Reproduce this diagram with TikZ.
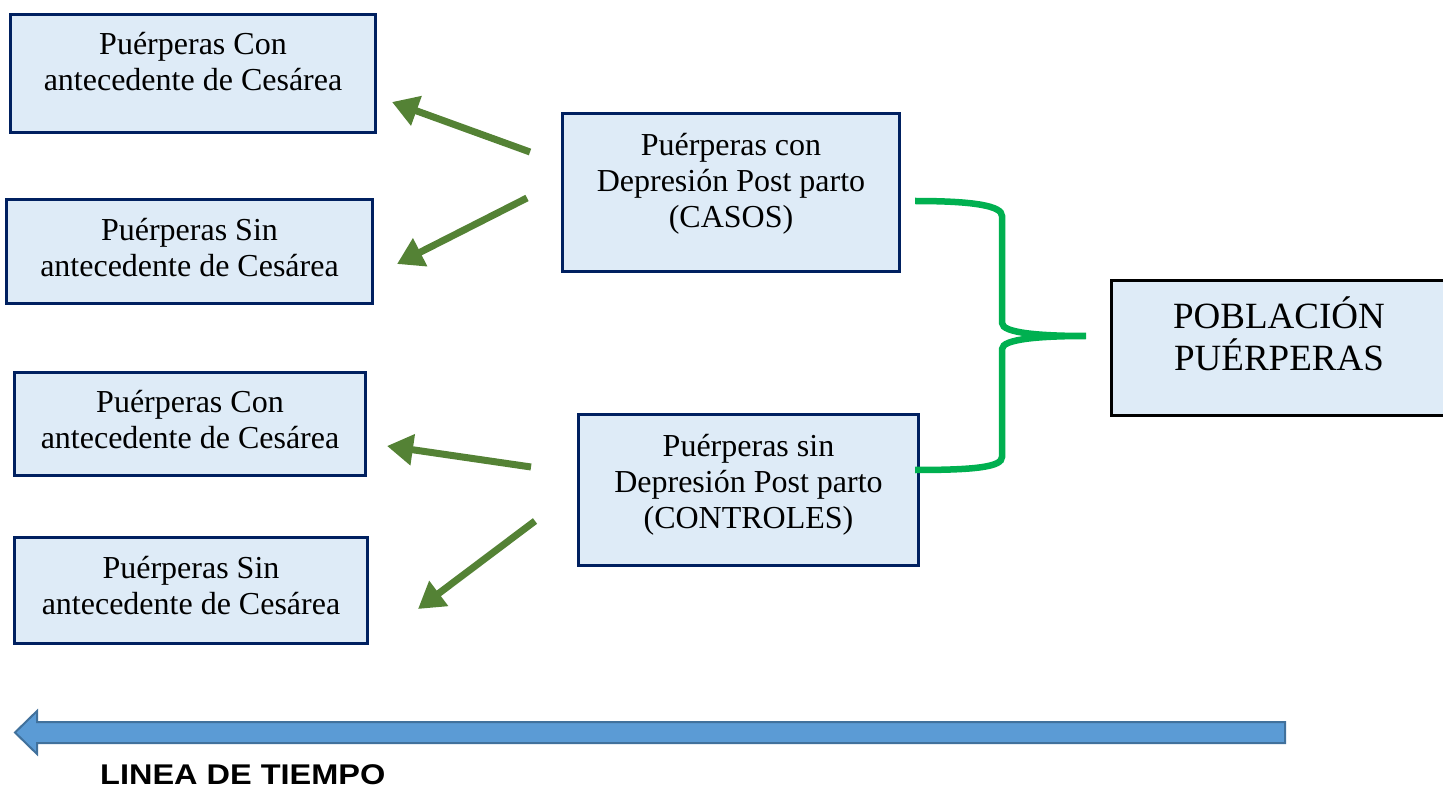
\documentclass[tikz,border=0pt]{standalone}
\usepackage{fontspec}
\setmainfont{Liberation Serif}
\newfontfamily\labelfont[FakeStretch=1.14]{Liberation Sans}
\usetikzlibrary{arrows.meta}
\definecolor{boxfill}{HTML}{DEEBF7}
\definecolor{boxline}{HTML}{002060}
\definecolor{arrowgreen}{HTML}{548235}
\definecolor{bracegreen}{HTML}{00B050}
\definecolor{timefill}{HTML}{5B9BD5}
\definecolor{timeline}{HTML}{41719C}
\begin{document}
\begin{tikzpicture}[x=1pt,y=-1pt,
  box/.style={draw=boxline, fill=boxfill, line width=3pt, inner sep=0pt},
  popbox/.style={draw=black, fill=boxfill, line width=3.5pt, inner sep=0pt},
  txt/.style={align=center, font=\fontsize{32}{36}\selectfont, inner sep=0pt},
  bigtxt/.style={align=center, font=\fontsize{37}{42}\selectfont, inner sep=0pt},
  garrow/.style={draw=arrowgreen, line width=7pt, -{Triangle[length=26pt,width=30pt]}},
  brace/.style={draw=bracegreen, line width=6.5pt},
  timearrow/.style={draw=timeline, fill=timefill, line width=2pt, line join=miter},
  timelabel/.style={font=\labelfont\bfseries\fontsize{28.5}{32}\selectfont, inner sep=0pt, anchor=base west}
]
\useasboundingbox (0,0) rectangle (1443,791);
\clip (0,0) rectangle (1443,791);

% left boxes
\node[box, minimum width=365pt, minimum height=118pt] (b1) at (193,73.5) {};
\node[txt] (t1) at (193,62) {Puérperas Con\\antecedente de Cesárea};
\node[box, minimum width=366pt, minimum height=104pt] (b2) at (189.5,251.5) {};
\node[txt] (t2) at (189.5,248) {Puérperas Sin\\antecedente de Cesárea};
\node[box, minimum width=351pt, minimum height=103pt] (b3) at (190,424) {};
\node[txt] (t3) at (190,420) {Puérperas Con\\antecedente de Cesárea};
\node[box, minimum width=353pt, minimum height=106pt] (b4) at (191,590.5) {};
\node[txt] (t4) at (191,586) {Puérperas Sin\\antecedente de Cesárea};

% middle boxes
\node[box, minimum width=337pt, minimum height=158pt] (casos) at (731,192.5) {};
\node[txt] (tcasos) at (731,183.5) {Puérperas con\\Depresión Post parto\\(CASOS)};
\node[box, minimum width=340pt, minimum height=151pt] (ctrl) at (748.5,490) {};
\node[txt] (tctrl) at (748.5,484.5) {Puérperas sin\\Depresión Post parto\\(CONTROLES)};

% population box
\node[popbox, minimum width=347pt, minimum height=135pt] (pop) at (1285,348) {};
\node[bigtxt] (tpop) at (1279,334) {POBLACIÓN\\PUÉRPERAS};

% green arrows
\coordinate (a1s) at (530,152); \coordinate (a1e) at (392,102);
\coordinate (a2s) at (527,198); \coordinate (a2e) at (397,264);
\coordinate (a3s) at (531,467); \coordinate (a3e) at (387,446);
\coordinate (a4s) at (535,521); \coordinate (a4e) at (418,609);
\draw[garrow] (a1s) -- (a1e);
\draw[garrow] (a2s) -- (a2e);
\draw[garrow] (a3s) -- (a3e);
\draw[garrow] (a4s) -- (a4e);

% brace
\coordinate (bt) at (915,201);
\coordinate (bb) at (915,470);
\coordinate (btip) at (1086,336);
\draw[brace] (bt) .. controls (975,201) and (1002,206) .. (1002,216)
  -- (1002,323) .. controls (1002,333) and (1040,336) .. (btip)
  .. controls (1040,336) and (1002,339) .. (1002,349)
  -- (1002,457) .. controls (1002,467) and (975,470) .. (bb);

% time line
\draw[timearrow] (1285,722) -- (37,722) -- (37,711) -- (15,732.5) -- (37,754) -- (37,743) -- (1285,743) -- cycle;
\node[timelabel] (tl) at (100,784) {LINEA DE TIEMPO};
\end{tikzpicture}
\end{document}
